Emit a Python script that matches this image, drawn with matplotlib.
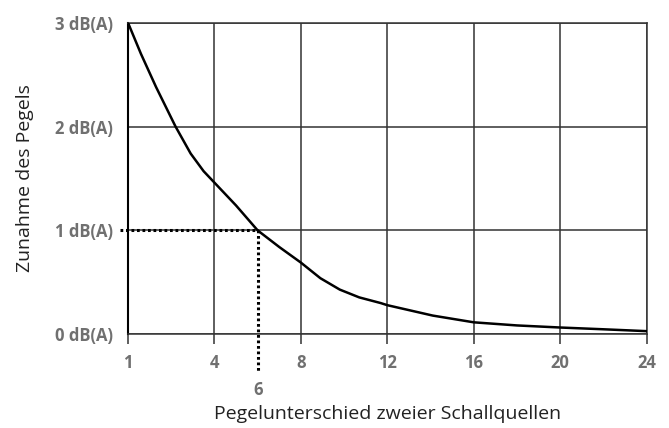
import matplotlib.pyplot as plt

# Pegelzunahme bei Addition zweier Schallquellen
diff = [0, 0.6, 1.3, 2.2, 2.9, 3.5, 4, 5, 6, 7, 8, 8.9, 9.8, 10.7, 11.7, 12, 14.1, 16, 18,
        20, 22, 24]
increase = [3.0, 2.70, 2.38, 2.0, 1.74, 1.57, 1.46, 1.24, 1.0, 0.84, 0.69, 0.54, 0.43, 0.355,
            0.30, 0.28, 0.18, 0.115, 0.085, 0.065, 0.048, 0.03]

xticks = [0, 4, 8, 12, 16, 20, 24]
xtick_labels = ["1", "4", "8", "12", "16", "20", "24"]
yticks = [0, 1, 2, 3]
ytick_labels = ["0 dB(A)", "1 dB(A)", "2 dB(A)", "3 dB(A)"]

mark_x = 6
mark_y = 1.0

plt.rcParams['font.family'] = ['Open Sans', 'DejaVu Sans']

fig = plt.figure(figsize=(6.69, 4.28), dpi=100)
ax = fig.add_axes([0.1913, 0.219, 0.7754, 0.728])

ax.plot(diff, increase, color='black', lw=1.8, zorder=3, solid_joinstyle='round')

# Hilfslinien zum Beispielwert
ax.plot([-0.35, mark_x], [mark_y, mark_y], color='black', lw=2.2,
        linestyle=(0, (0.9, 0.9)), clip_on=False, zorder=4)
ax.plot([mark_x, mark_x], [mark_y, -0.37], color='black', lw=2.2,
        linestyle=(0, (0.9, 0.9)), clip_on=False, zorder=4)
ax.text(mark_x, -0.535, "6", ha='center', va='center', fontsize=12,
        fontweight='bold', color='#707070')

ax.set_xlim(0, 24)
ax.set_ylim(0, 3)
ax.set_xticks(xticks)
ax.set_xticklabels(xtick_labels)
ax.set_yticks(yticks)
ax.set_yticklabels(ytick_labels)

ax.grid(True, color='#333333', lw=1.1)
for s in ax.spines.values():
    s.set_color('#333333')
    s.set_linewidth(1.1)
ax.spines['left'].set_color('black')
ax.spines['left'].set_linewidth(1.5)

ax.tick_params(axis='x', direction='out', length=7, width=1.1, color='#333333',
               pad=7, labelsize=12, labelcolor='#707070')
ax.tick_params(axis='y', length=0, pad=11, labelsize=12, labelcolor='#707070')
for lab in ax.get_xticklabels() + ax.get_yticklabels():
    lab.set_fontweight('bold')

ax.set_xlabel("Pegelunterschied zweier Schallquellen", fontsize=14, color='#222222',
              labelpad=24)
ax.set_ylabel("Zunahme des Pegels", fontsize=14, color='#222222', labelpad=15)

fig.savefig("out.png", dpi=100)
